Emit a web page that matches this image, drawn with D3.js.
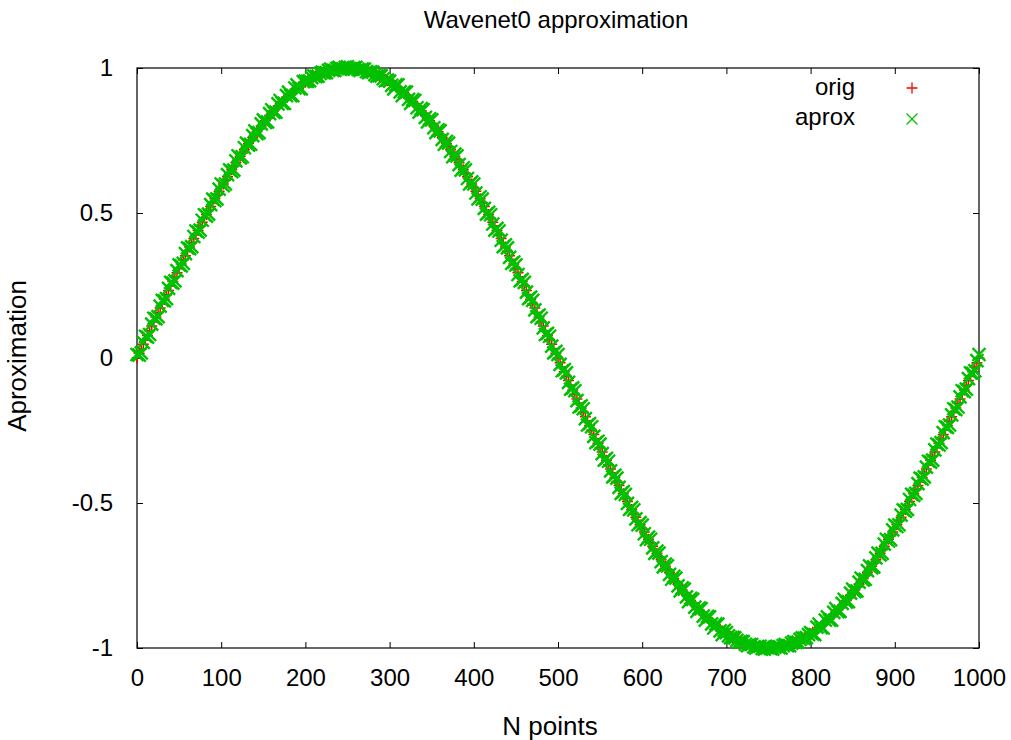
<!DOCTYPE html>
<html>
<head>
<meta charset="utf-8">
<script src="https://cdn.jsdelivr.net/npm/d3@7"></script>
<style>
  body { margin: 0; background: #fff; }
  text { font-family: "Liberation Sans", Arial, sans-serif; fill: #000; }
  .axis path { display: none; }
  .axis line { stroke: #000; stroke-width: 1; }
</style>
</head>
<body>
<div class="chart"></div>
<script>
// spacing along the N axis of the values
const step = 2.5;

const orig = [
  0.000,0.016,0.031,0.047,0.063,0.078,0.094,0.110,0.125,0.141,0.156,0.172,0.187,0.203,0.218,0.233,0.249,0.264,0.279,0.294,
  0.309,0.324,0.339,0.353,0.368,0.383,0.397,0.412,0.426,0.440,0.454,0.468,0.482,0.495,0.509,0.522,0.536,0.549,0.562,0.575,
  0.588,0.600,0.613,0.625,0.637,0.649,0.661,0.673,0.685,0.696,0.707,0.718,0.729,0.740,0.750,0.760,0.771,0.780,0.790,0.800,
  0.809,0.818,0.827,0.836,0.844,0.853,0.861,0.869,0.876,0.884,0.891,0.898,0.905,0.911,0.918,0.924,0.930,0.935,0.941,0.946,
  0.951,0.956,0.960,0.965,0.969,0.972,0.976,0.979,0.982,0.985,0.988,0.990,0.992,0.994,0.996,0.997,0.998,0.999,1.000,1.000,
  1.000,
  1.000,1.000,0.999,0.998,0.997,0.996,0.994,0.992,0.990,0.988,0.985,0.982,0.979,0.976,0.972,0.969,0.965,0.960,0.956,0.951,
  0.946,0.941,0.935,0.930,0.924,0.918,0.911,0.905,0.898,0.891,0.884,0.876,0.869,0.861,0.853,0.844,0.836,0.827,0.818,0.809,
  0.800,0.790,0.780,0.771,0.760,0.750,0.740,0.729,0.718,0.707,0.696,0.685,0.673,0.661,0.649,0.637,0.625,0.613,0.600,0.588,
  0.575,0.562,0.549,0.536,0.522,0.509,0.495,0.482,0.468,0.454,0.440,0.426,0.412,0.397,0.383,0.368,0.353,0.339,0.324,0.309,
  0.294,0.279,0.264,0.249,0.233,0.218,0.203,0.187,0.172,0.156,0.141,0.125,0.110,0.094,0.078,0.063,0.047,0.031,0.016,0.000,
  -0.016,-0.031,-0.047,-0.063,-0.078,-0.094,-0.110,-0.125,-0.141,-0.156,-0.172,-0.187,-0.203,-0.218,-0.233,-0.249,-0.264,-0.279,-0.294,-0.309,
  -0.324,-0.339,-0.353,-0.368,-0.383,-0.397,-0.412,-0.426,-0.440,-0.454,-0.468,-0.482,-0.495,-0.509,-0.522,-0.536,-0.549,-0.562,-0.575,-0.588,
  -0.600,-0.613,-0.625,-0.637,-0.649,-0.661,-0.673,-0.685,-0.696,-0.707,-0.718,-0.729,-0.740,-0.750,-0.760,-0.771,-0.780,-0.790,-0.800,-0.809,
  -0.818,-0.827,-0.836,-0.844,-0.853,-0.861,-0.869,-0.876,-0.884,-0.891,-0.898,-0.905,-0.911,-0.918,-0.924,-0.930,-0.935,-0.941,-0.946,-0.951,
  -0.956,-0.960,-0.965,-0.969,-0.972,-0.976,-0.979,-0.982,-0.985,-0.988,-0.990,-0.992,-0.994,-0.996,-0.997,-0.998,-0.999,-1.000,-1.000,-1.000,
  -1.000,-1.000,-0.999,-0.998,-0.997,-0.996,-0.994,-0.992,-0.990,-0.988,-0.985,-0.982,-0.979,-0.976,-0.972,-0.969,-0.965,-0.960,-0.956,-0.951,
  -0.946,-0.941,-0.935,-0.930,-0.924,-0.918,-0.911,-0.905,-0.898,-0.891,-0.884,-0.876,-0.869,-0.861,-0.853,-0.844,-0.836,-0.827,-0.818,-0.809,
  -0.800,-0.790,-0.780,-0.771,-0.760,-0.750,-0.740,-0.729,-0.718,-0.707,-0.696,-0.685,-0.673,-0.661,-0.649,-0.637,-0.625,-0.613,-0.600,-0.588,
  -0.575,-0.562,-0.549,-0.536,-0.522,-0.509,-0.495,-0.482,-0.468,-0.454,-0.440,-0.426,-0.412,-0.397,-0.383,-0.368,-0.353,-0.339,-0.324,-0.309,
  -0.294,-0.279,-0.264,-0.249,-0.233,-0.218,-0.203,-0.187,-0.172,-0.156,-0.141,-0.125,-0.110,-0.094,-0.078,-0.063,-0.047,-0.031,-0.016,0.000
];

const aprox = [
  0.012,0.010,0.018,0.054,0.075,0.072,0.081,0.117,0.137,0.135,0.143,0.179,0.199,0.197,0.205,0.240,0.261,0.258,0.266,0.301,
  0.321,0.318,0.326,0.360,0.380,0.377,0.384,0.419,0.438,0.434,0.441,0.475,0.494,0.489,0.496,0.529,0.548,0.543,0.549,0.582,
  0.600,0.594,0.600,0.632,0.649,0.643,0.648,0.680,0.697,0.690,0.694,0.725,0.741,0.734,0.737,0.767,0.783,0.774,0.777,0.807,
  0.821,0.812,0.814,0.843,0.856,0.847,0.848,0.876,0.888,0.878,0.878,0.905,0.917,0.905,0.905,0.931,0.942,0.929,0.928,0.953,
  0.955,0.954,0.956,0.967,0.973,0.970,0.972,0.981,0.986,0.983,0.984,0.992,0.996,0.992,0.992,0.999,1.002,0.997,0.996,1.002,
  1.004,
  0.998,0.996,1.001,1.002,0.995,0.992,0.996,0.996,0.988,0.984,0.987,0.986,0.977,0.972,0.974,0.973,0.963,0.956,0.958,0.955,
  0.940,0.928,0.942,0.942,0.918,0.905,0.918,0.917,0.892,0.878,0.891,0.888,0.863,0.848,0.860,0.856,0.830,0.814,0.825,0.821,
  0.794,0.777,0.787,0.783,0.754,0.737,0.747,0.741,0.712,0.694,0.703,0.697,0.667,0.648,0.656,0.649,0.619,0.600,0.607,0.600,
  0.569,0.549,0.556,0.548,0.516,0.496,0.502,0.494,0.462,0.441,0.447,0.438,0.406,0.384,0.390,0.380,0.347,0.326,0.331,0.321,
  0.288,0.266,0.271,0.261,0.227,0.205,0.210,0.199,0.166,0.143,0.148,0.137,0.104,0.081,0.085,0.075,0.041,0.018,0.023,0.012,
  -0.022,-0.044,-0.040,-0.051,-0.084,-0.107,-0.103,-0.113,-0.147,-0.169,-0.165,-0.175,-0.209,-0.231,-0.226,-0.237,-0.270,-0.292,-0.287,-0.297,
  -0.330,-0.352,-0.346,-0.356,-0.389,-0.410,-0.405,-0.414,-0.446,-0.467,-0.461,-0.470,-0.501,-0.522,-0.515,-0.524,-0.555,-0.575,-0.568,-0.576,
  -0.606,-0.626,-0.618,-0.625,-0.655,-0.674,-0.666,-0.673,-0.702,-0.720,-0.711,-0.717,-0.746,-0.763,-0.753,-0.759,-0.786,-0.803,-0.793,-0.797,
  -0.824,-0.840,-0.829,-0.832,-0.859,-0.874,-0.862,-0.864,-0.890,-0.904,-0.891,-0.893,-0.917,-0.931,-0.917,-0.918,-0.941,-0.954,-0.939,-0.947,
  -0.958,-0.964,-0.963,-0.965,-0.974,-0.980,-0.977,-0.978,-0.987,-0.992,-0.988,-0.988,-0.996,-1.000,-0.995,-0.994,-1.001,-1.004,-0.998,-0.996,
  -1.002,-1.004,-0.997,-0.994,-0.999,-1.000,-0.992,-0.988,-0.992,-0.992,-0.983,-0.978,-0.981,-0.980,-0.970,-0.965,-0.967,-0.964,-0.954,-0.947,
  -0.952,-0.954,-0.928,-0.918,-0.930,-0.931,-0.904,-0.893,-0.904,-0.904,-0.877,-0.864,-0.875,-0.874,-0.846,-0.832,-0.842,-0.840,-0.811,-0.797,
  -0.806,-0.803,-0.773,-0.759,-0.766,-0.763,-0.733,-0.717,-0.724,-0.720,-0.689,-0.673,-0.679,-0.674,-0.642,-0.625,-0.631,-0.626,-0.593,-0.576,
  -0.581,-0.575,-0.542,-0.524,-0.528,-0.522,-0.488,-0.470,-0.474,-0.467,-0.433,-0.414,-0.418,-0.410,-0.376,-0.356,-0.359,-0.352,-0.317,-0.297,
  -0.300,-0.292,-0.257,-0.237,-0.239,-0.231,-0.196,-0.175,-0.178,-0.169,-0.134,-0.113,-0.116,-0.107,-0.071,-0.051,-0.053,-0.044,-0.009,0.012
];

const xTicks = [0, 100, 200, 300, 400, 500, 600, 700, 800, 900, 1000];
const yTicks = [-1, -0.5, 0, 0.5, 1];
const seriesNames = ["orig", "aprox"];
const seriesColors = ["#ff0000", "#00c000"];

var margin = {top: 68, right: 32, bottom: 92, left: 137};
const width = 1011 - margin.left - margin.right;
const height = 740 - margin.top - margin.bottom;

const root = d3.select(".chart")
    .append("svg")
    .attr("width", 1011)
    .attr("height", 740);

const svg = root.append("g")
    .attr("transform", `translate(${margin.left},${margin.top})`);

let xScale = d3.scaleLinear().domain([0, 1000]).range([0, width]);
let yScale = d3.scaleLinear().domain([-1, 1]).range([height, 0]);

// axes, ticks pointing inwards like gnuplot
svg.append("g")
    .attr("class", "axis x-axis")
    .attr("transform", `translate(0,${height})`)
    .call(d3.axisBottom(xScale).tickValues(xTicks).tickSizeInner(-6).tickSizeOuter(0).tickPadding(21).tickFormat(d => String(d)))
    .selectAll("text").style("font-size", "24px");

svg.append("g")
    .attr("class", "axis")
    .call(d3.axisTop(xScale).tickValues(xTicks).tickSizeInner(-6).tickSizeOuter(0).tickFormat(""));

svg.append("g")
    .attr("class", "axis y-axis")
    .call(d3.axisLeft(yScale).tickValues(yTicks).tickSizeInner(-6).tickSizeOuter(0).tickPadding(24).tickFormat(d => String(d)))
    .selectAll("text").style("font-size", "24px");

svg.append("g")
    .attr("class", "axis")
    .attr("transform", `translate(${width},0)`)
    .call(d3.axisRight(yScale).tickValues(yTicks).tickSizeInner(-6).tickSizeOuter(0).tickFormat(""));

svg.append("rect")
    .attr("width", width)
    .attr("height", height)
    .attr("fill", "none")
    .attr("stroke", "#000")
    .attr("stroke-width", 1.2);

// markers
const plus = "M-5.5,0H5.5M0,-5.5V5.5";
const cross = "M-5.5,-5.5L5.5,5.5M-5.5,5.5L5.5,-5.5";
const bigCross = "M-6.5,-6.5L6.5,6.5M-6.5,6.5L6.5,-6.5";

svg.append("g").selectAll("path")
    .data(orig)
    .enter()
    .append("path")
    .attr("d", plus)
    .attr("transform", (d, i) => `translate(${xScale(i * step)},${yScale(d)})`)
    .attr("stroke", seriesColors[0])
    .attr("stroke-width", 1.5)
    .attr("fill", "none");

svg.append("g").selectAll("path")
    .data(aprox)
    .enter()
    .append("path")
    .attr("d", bigCross)
    .attr("transform", (d, i) => `translate(${xScale(i * step)},${yScale(d)})`)
    .attr("stroke", seriesColors[1])
    .attr("stroke-width", 2.4)
    .attr("fill", "none");

// legend
const legend = root.append("g");
seriesNames.forEach(function(name, i){
    legend.append("text")
        .attr("x", 855)
        .attr("y", 95 + i * 30)
        .attr("text-anchor", "end")
        .style("font-size", "24px")
        .text(name);
    legend.append("path")
        .attr("d", i == 0 ? plus : cross)
        .attr("transform", `translate(912,${88 + i * 31})`)
        .attr("stroke", seriesColors[i])
        .attr("stroke-width", 1.3)
        .attr("fill", "none");
});

// titles
root.append("text")
    .attr("x", 556)
    .attr("y", 28)
    .attr("text-anchor", "middle")
    .style("font-size", "24px")
    .text("Wavenet0 approximation");

root.append("text")
    .attr("x", 550)
    .attr("y", 735)
    .attr("text-anchor", "middle")
    .style("font-size", "26px")
    .text("N points");

root.append("text")
    .attr("transform", "translate(26,356) rotate(-90)")
    .attr("text-anchor", "middle")
    .style("font-size", "26px")
    .text("Aproximation");
</script>
</body>
</html>
